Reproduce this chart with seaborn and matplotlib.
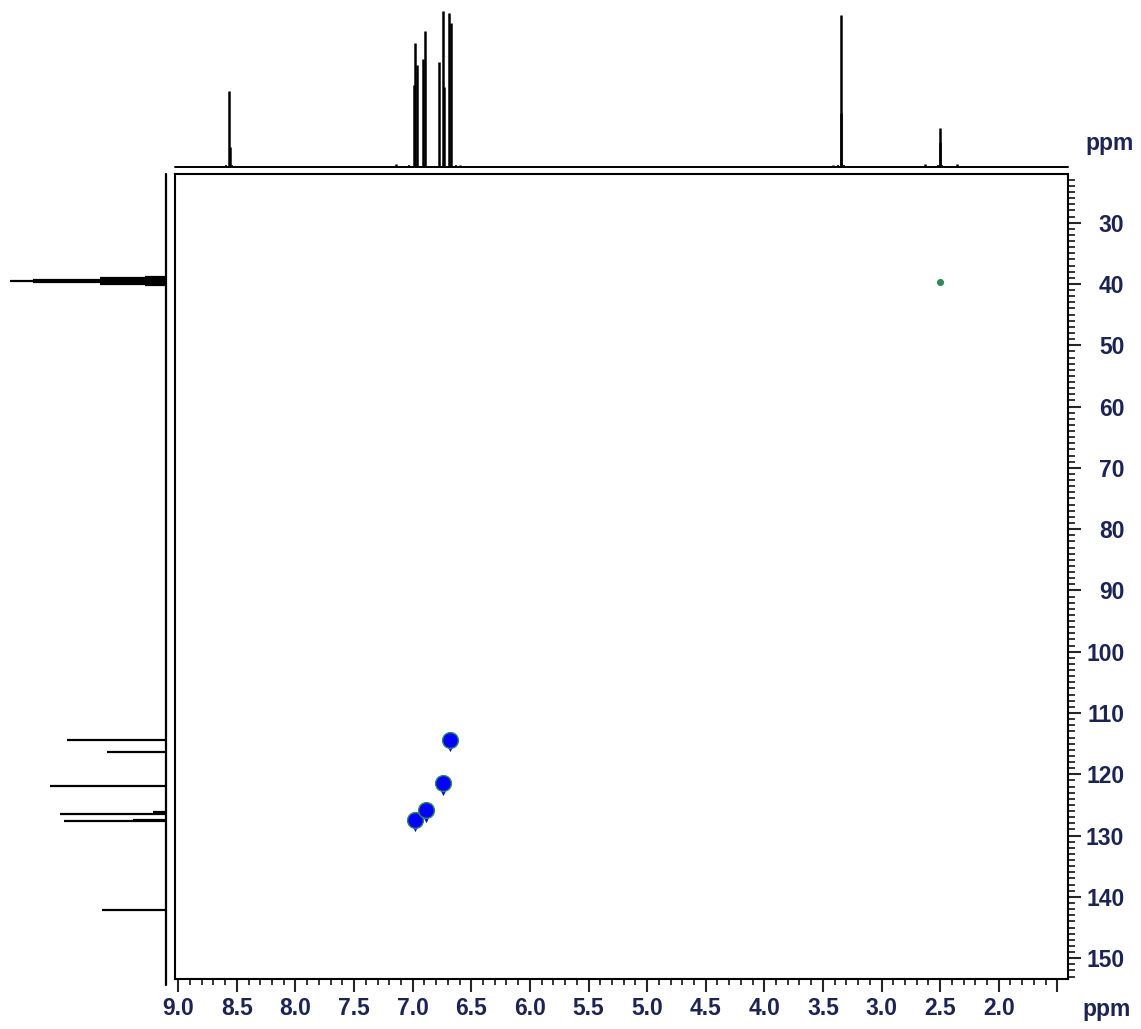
"""
HSQC spectrum with 1H projection on top and 13C projection on the left
"""

import matplotlib
matplotlib.use("Agg")
import matplotlib.pyplot as plt
import seaborn as sns
from matplotlib.ticker import FixedLocator, MultipleLocator

sns.set_style("ticks")
plt.rcParams['font.family'] = ['Liberation Sans', 'DejaVu Sans']

# 1H projection (top trace), sticks: shift (ppm) and height (a.u.)
h1_ppm = [8.565, 8.561, 7.140, 6.985, 6.978, 6.966, 6.915, 6.895,
          6.773, 6.744, 6.733, 6.693, 6.676, 6.600,
          3.417, 3.346, 3.342, 2.630, 2.503, 2.499, 2.358]
h1_int = [76, 20, 3, 82, 124, 102, 108, 136,
          105, 156, 80, 154, 144, 2,
          2, 152, 54, 3, 39, 25, 3]

# small broad feet under the main 1H lines
foot_ppm = [8.59, 8.54, 7.03, 6.63, 3.37, 3.32, 2.52, 2.48]
foot_int = [2, 2, 2, 2, 2, 2, 2, 2]

# 13C projection (left trace), sticks: shift (ppm) and height (a.u.)
c13_ppm = [114.4, 116.35, 121.85, 126.2, 126.4, 127.4, 127.6, 142.1,
           38.89, 39.10, 39.31, 39.52, 39.73, 39.94, 40.15]
c13_int = [99, 59, 116, 13, 106, 33, 102, 64,
           21, 66, 133, 156, 133, 66, 21]

# HSQC cross peaks (1H ppm, 13C ppm), main lobe and lower lobe
hsqc_h = [6.980, 6.887, 6.744, 6.681]
hsqc_c = [127.5, 125.9, 121.4, 114.4]
hsqc_tail_c = [128.6, 127.2, 122.7, 115.6]

# residual solvent (DMSO) cross peak
solv_h = [2.50]
solv_c = [39.6]

x_major = [9.0, 8.5, 8.0, 7.5, 7.0, 6.5, 6.0, 5.5, 5.0, 4.5, 4.0, 3.5, 3.0, 2.5, 2.0, 1.5]
x_labels = ["9.0", "8.5", "8.0", "7.5", "7.0", "6.5", "6.0", "5.5", "5.0",
            "4.5", "4.0", "3.5", "3.0", "2.5", "2.0", ""]
y_major = [30, 40, 50, 60, 70, 80, 90, 100, 110, 120, 130, 140, 150]

X_LIM = (9.028, 1.409)
Y_LIM = (153.4, 22.06)
TXT = '#1c2455'
FS = 16.5

W, H = 1141, 1029
fig = plt.figure(figsize=(W / 100, H / 100), dpi=100)

# main 2D panel
ax = fig.add_axes([175 / W, 1 - 979 / H, 893 / W, 805 / H])
sns.scatterplot(x=hsqc_h, y=hsqc_tail_c, ax=ax, color='#0a0aff', s=45,
                marker='v', linewidth=0, zorder=3)
sns.scatterplot(x=hsqc_h, y=hsqc_c, ax=ax, color='#0000ff', s=130,
                edgecolor='#2e8b57', linewidth=1.0, zorder=4)
sns.scatterplot(x=solv_h, y=solv_c, ax=ax, color='#2e8b57', s=26,
                linewidth=0, zorder=4)
ax.set_xlim(*X_LIM)
ax.set_ylim(*Y_LIM)
ax.set_xlabel('')
ax.set_ylabel('')

for sp in ax.spines.values():
    sp.set_linewidth(1.5)
    sp.set_color('black')

ax.xaxis.set_major_locator(FixedLocator(x_major))
ax.set_xticklabels(x_labels)
ax.xaxis.set_minor_locator(MultipleLocator(0.1))
ax.tick_params(axis='x', which='major', direction='out', length=9, width=1.5,
               pad=4, labelsize=FS, labelcolor=TXT)
ax.tick_params(axis='x', which='minor', direction='out', length=4, width=1.3)

ax.yaxis.set_major_locator(FixedLocator(y_major))
ax.yaxis.set_minor_locator(MultipleLocator(1))
ax.yaxis.tick_right()
ax.tick_params(axis='y', which='major', direction='out', length=9.5, width=1.5,
               pad=31, labelsize=FS, labelcolor=TXT, left=False, labelleft=False,
               right=True, labelright=True)
ax.tick_params(axis='y', which='minor', direction='out', length=5, width=1.3,
               left=False, right=True)
plt.setp(ax.get_yticklabels(), ha='right', fontweight='bold')
plt.setp(ax.get_xticklabels(), fontweight='bold')

# 1H projection
ax_top = fig.add_axes([175 / W, 1 - 167 / H, 893 / W, 162 / H])
ax_top.vlines(h1_ppm, 0, h1_int, color='black', lw=1.8)
ax_top.vlines(foot_ppm, 0, foot_int, color='black', lw=1.2)
ax_top.axhline(0, color='black', lw=1.4, clip_on=False)
ax_top.set_xlim(*X_LIM)
ax_top.set_ylim(0, 162)
ax_top.axis('off')

# 13C projection
ax_left = fig.add_axes([0, 1 - 979 / H, 166 / W, 805 / H])
ax_left.hlines(c13_ppm, 0, c13_int, color='black', lw=1.6)
ax_left.plot([0, 0], [Y_LIM[1], Y_LIM[0] + 1.0], color='black', lw=1.6,
             clip_on=False)
ax_left.set_xlim(166, 0)
ax_left.set_ylim(*Y_LIM)
ax_left.axis('off')

fig.text(1085 / W, 1 - 150 / H, 'ppm', fontsize=FS, color=TXT, va='baseline',
         fontweight='bold')
fig.text(1082 / W, 1 - 1016 / H, 'ppm', fontsize=FS, color=TXT, va='baseline',
         fontweight='bold')

fig.savefig('out.png', dpi=100)
plt.close(fig)
